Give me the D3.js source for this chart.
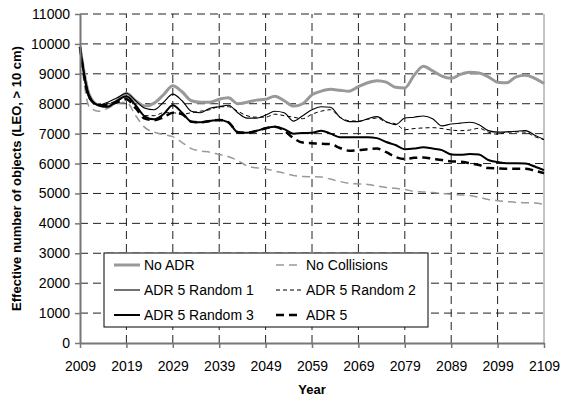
<!DOCTYPE html>
<html>
<head>
<meta charset="utf-8">
<script src="https://cdn.jsdelivr.net/npm/d3@7"></script>
<style>
body{margin:0;background:#fff;}
svg{font-family:Arial,"Liberation Sans",sans-serif;}
</style>
</head>
<body>
<svg id="chart" width="561" height="398"></svg>
<script>
// years every 2 years
const years = d3.range(2009, 2110, 2)

const noAdr = [9900,8300,7950,7900,8100,8350,8100,7920,8020,8300,8600,8400,8100,8050,8050,8150,8200,8000,8050,8120,8150,8250,8100,7920,8000,8300,8420,8480,8450,8420,8570,8700,8770,8720,8550,8530,8950,9250,9100,8920,8850,8980,9050,9030,8900,8720,8700,8900,8950,8850,8680]
const noColl = [9900,7900,7750,7850,8000,8050,7600,7200,7050,6970,6900,6700,6500,6420,6380,6300,6230,6100,5920,5860,5820,5750,5680,5600,5570,5560,5550,5480,5400,5340,5320,5300,5250,5200,5170,5130,5070,5050,5030,5000,4970,4950,4930,4870,4800,4760,4730,4700,4690,4680,4630]
const rnd1 = [9900,8300,7950,8050,8200,8350,8100,7850,7800,8050,8320,8100,7750,7700,7850,7900,7950,7700,7520,7520,7620,7750,7700,7420,7600,7800,7900,7880,7550,7400,7400,7500,7570,7400,7300,7520,7550,7590,7500,7260,7320,7350,7380,7300,7100,7050,7060,7080,7100,6950,6800]
const rnd2 = [9900,8200,7950,8000,8100,8200,7900,7600,7600,7700,7700,7650,7700,7750,7800,7900,7900,7750,7600,7550,7550,7650,7600,7550,7500,7650,7750,7800,7550,7430,7420,7480,7520,7380,7330,7130,7170,7190,7200,7170,7120,7100,7120,7180,7050,6980,7050,7060,7050,6900,6800]
const rnd3 = [9900,8200,7950,7900,8100,8250,7950,7570,7480,7650,7950,7700,7400,7380,7420,7460,7380,7050,7030,7090,7180,7230,7150,7000,7020,7030,7100,7000,6880,6880,6880,6880,6850,6720,6620,6480,6500,6545,6500,6450,6300,6290,6320,6300,6120,6050,6010,6010,6000,5900,5780]
const adr5 = [9900,8200,7950,7950,8050,8150,7850,7500,7450,7550,7700,7650,7400,7380,7420,7460,7380,7050,7030,7090,7180,7230,7100,6850,6700,6680,6660,6650,6520,6430,6450,6480,6500,6380,6220,6150,6190,6200,6160,6120,6070,6060,6010,5950,5850,5840,5830,5830,5830,5760,5680]

const xTicks = d3.range(2009, 2110, 10)
const yTicks = d3.range(0, 11001, 1000)

const series = [
	{name:'No ADR', vals:noAdr, col:'#999', w:3, dash:null},
	{name:'No Collisions', vals:noColl, col:'#999', w:1.5, dash:'8,5'},
	{name:'ADR 5 Random 1', vals:rnd1, col:'#000', w:1.1, dash:null},
	{name:'ADR 5 Random 2', vals:rnd2, col:'#000', w:1, dash:'4,3'},
	{name:'ADR 5 Random 3', vals:rnd3, col:'#000', w:2, dash:null},
	{name:'ADR 5', vals:adr5, col:'#000', w:2.5, dash:'8,5'}
]

const mrgn = [14,17,55,80]
const wdth = 561
const hght = 398

const svg = d3.select('#chart')

const x = d3.scaleLinear().domain([2009,2109]).range([mrgn[3], wdth - mrgn[1]])
const y = d3.scaleLinear().domain([0,11000]).range([hght - mrgn[2], mrgn[0]])

// grid
svg.append('g')
	.selectAll('line')
	.data(yTicks.slice(1))
	.enter()
	.append('line')
	.attr('x1', x(2009)).attr('x2', x(2109))
	.attr('y1', d => y(d)).attr('y2', d => y(d))
	.attr('stroke','#222').attr('stroke-dasharray','8,5')

svg.append('g')
	.selectAll('line')
	.data(xTicks.slice(1, -1))
	.enter()
	.append('line')
	.attr('x1', d => x(d)).attr('x2', d => x(d))
	.attr('y1', y(0)).attr('y2', y(11000))
	.attr('stroke','#222').attr('stroke-dasharray','8,5')

// right border
svg.append('line')
	.attr('x1', x(2109)).attr('x2', x(2109))
	.attr('y1', y(0)).attr('y2', y(11000))
	.attr('stroke','#888')

// lines
const line = d3.line()
	.x((d,i) => x(years[i]))
	.y(d => y(d))
	.curve(d3.curveMonotoneX)

svg.append('g')
	.selectAll('path')
	.data(series)
	.enter()
	.append('path')
	.attr('d', d => line(d.vals))
	.attr('fill','none')
	.attr('stroke', d => d.col)
	.attr('stroke-width', d => d.w)
	.attr('stroke-dasharray', d => d.dash)

// axes
const yAxis = svg.append('g')
	.attr('transform', `translate(${mrgn[3]},0)`)
	.call(d3.axisLeft(y).tickValues(yTicks).tickFormat(d3.format('d')).tickSize(5).tickSizeOuter(0).tickPadding(5))
const xAxis = svg.append('g')
	.attr('transform', `translate(0,${y(0)})`)
	.call(d3.axisBottom(x).tickValues(xTicks).tickFormat(d3.format('d')).tickSize(5).tickSizeOuter(0).tickPadding(13))

for (const a of [yAxis, xAxis]) {
	a.select('.domain').attr('stroke','#777').attr('stroke-width',2)
	a.selectAll('.tick line').attr('stroke','#777').attr('stroke-width',1.5)
	a.selectAll('text').attr('font-size','14px').attr('fill','#000').attr('font-family','Arial,"Liberation Sans",sans-serif')
}

// titles
svg.append('text')
	.attr('x', (x(2009) + x(2109)) / 2)
	.attr('y', 394)
	.attr('text-anchor','middle')
	.attr('font-weight','bold')
	.attr('font-size','13px')
	.text('Year')

svg.append('text')
	.attr('transform', `translate(21,${(y(0) + y(11000)) / 2}) rotate(-90)`)
	.attr('text-anchor','middle')
	.attr('font-weight','bold')
	.attr('font-size','13px')
	.text('Effective number of objects (LEO, > 10 cm)')

// legend
const legend = svg.append('g').attr('transform','translate(104,253)')
legend.append('rect')
	.attr('width',324).attr('height',74)
	.attr('fill','#fff').attr('stroke','#000')

const legendG = legend
	.selectAll('.legend')
	.data(series)
	.enter()
	.append('g')
	.attr('transform',(d,i) => `translate(${i % 2 ? 172 : 10},${12 + Math.floor(i / 2) * 25})`)
	.classed('legend',true)

legendG.append('line')
	.attr('x1',0).attr('x2',26)
	.attr('stroke', d => d.col)
	.attr('stroke-width', d => d.w)
	.attr('stroke-dasharray', d => d.dash)

legendG.append('text')
	.attr('x',30)
	.attr('y','0.35em')
	.attr('font-size','14px')
	.text(d => d.name)
</script>
</body>
</html>
